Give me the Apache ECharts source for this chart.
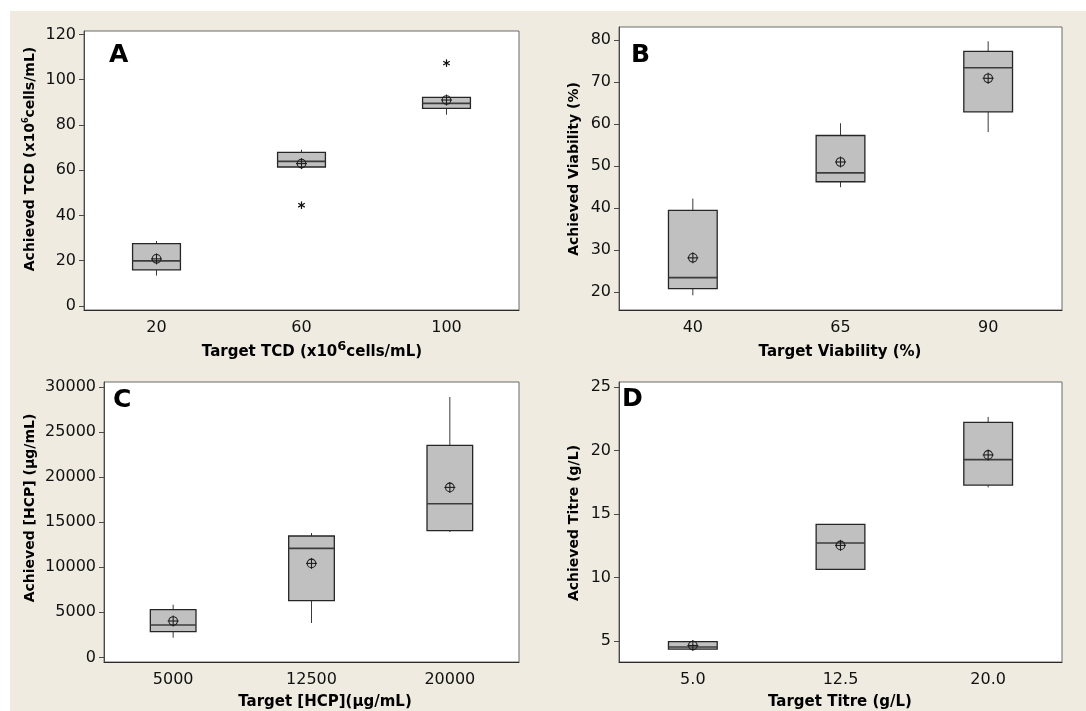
<!DOCTYPE html>
<html>
<head>
<meta charset="utf-8">
<script src="https://cdn.jsdelivr.net/npm/echarts@6.0.0/dist/echarts.min.js"></script>
<style>
  html, body { margin: 0; padding: 0; background: #ffffff; }
  #chart { width: 1086px; height: 711px; }
</style>
</head>
<body>
<div id="chart"></div>
<script>
// Panel A: total cell density
const tcdTargets = ['20', '60', '100'];
const tcdMin    = [13.4, 60.8, 84.5];
const tcdQ1     = [15.9, 61.4, 87.3];
const tcdMedian = [19.9, 63.9, 89.5];
const tcdQ3     = [27.5, 67.9, 92.2];
const tcdMax    = [28.7, 69.0, 92.2];
const tcdMean   = [20.8, 62.9, 91.0];
const tcdOutliers = [[1, 44.5], [2, 107.3]];
const tcdTicks  = [0, 20, 40, 60, 80, 100, 120];

// Panel B: viability
const viaTargets = ['40', '65', '90'];
const viaMin    = [19.3, 45.0, 58.1];
const viaQ1     = [20.9, 46.3, 62.9];
const viaMedian = [23.5, 48.4, 73.4];
const viaQ3     = [39.5, 57.3, 77.3];
const viaMax    = [42.3, 60.2, 79.7];
const viaMean   = [28.2, 51.0, 70.9];
const viaTicks  = [20, 30, 40, 50, 60, 70, 80];

// Panel C: host cell protein
const hcpTargets = ['5000', '12500', '20000'];
const hcpMin    = [2186, 3817, 13913];
const hcpQ1     = [2851, 6291, 14057];
const hcpMedian = [3595, 12094, 17053];
const hcpQ3     = [5292, 13469, 23521];
const hcpMax    = [5847, 13802, 28891];
const hcpMean   = [4039, 10429, 18862];
const hcpTicks  = [0, 5000, 10000, 15000, 20000, 25000, 30000];

// Panel D: titre
const titreTargets = ['5.0', '12.5', '20.0'];
const titreMin    = [4.37, 10.64, 17.09];
const titreQ1     = [4.37, 10.64, 17.28];
const titreMedian = [4.53, 12.72, 19.28];
const titreQ3     = [4.95, 14.18, 22.21];
const titreMax    = [4.95, 14.18, 22.64];
const titreMean   = [4.65, 12.53, 19.65];
const titreTicks  = [5, 10, 15, 20, 25];

const FONT = 'DejaVu Sans';
const INK = '#111111';

function boxRows(mins, q1s, meds, q3s, maxs) {
  return mins.map((m, i) => [i, m, q1s[i], meds[i], q3s[i], maxs[i]]);
}
function meanRows(means) {
  return means.map((v, i) => [i, v]);
}

function renderBox(params, api) {
  const i = api.value(0);
  const pMin = api.coord([i, api.value(1)]);
  const pQ1 = api.coord([i, api.value(2)]);
  const pMed = api.coord([i, api.value(3)]);
  const pQ3 = api.coord([i, api.value(4)]);
  const pMax = api.coord([i, api.value(5)]);
  const w = api.size([1, 0])[0] * 0.33;
  const cx = pQ1[0];
  const whisker = { stroke: '#3a3a3a', lineWidth: 1 };
  return {
    type: 'group',
    children: [
      { type: 'line', shape: { x1: cx, y1: pQ3[1], x2: cx, y2: pMax[1] }, style: whisker },
      { type: 'line', shape: { x1: cx, y1: pQ1[1], x2: cx, y2: pMin[1] }, style: whisker },
      { type: 'rect', shape: { x: cx - w / 2, y: pQ3[1], width: w, height: pQ1[1] - pQ3[1] },
        style: { fill: '#c0c0c0', stroke: '#262626', lineWidth: 1.3 } },
      { type: 'line', shape: { x1: cx - w / 2, y1: pMed[1], x2: cx + w / 2, y2: pMed[1] },
        style: { stroke: '#3c3c3c', lineWidth: 1.6 } }
    ]
  };
}

function renderMean(params, api) {
  const p = api.coord([api.value(0), api.value(1)]);
  const s = { stroke: '#1e1e1e', lineWidth: 1.1, fill: null };
  return {
    type: 'group',
    children: [
      { type: 'circle', shape: { cx: p[0], cy: p[1], r: 4.3 }, style: s },
      { type: 'line', shape: { x1: p[0] - 5.5, y1: p[1], x2: p[0] + 5.5, y2: p[1] }, style: s },
      { type: 'line', shape: { x1: p[0], y1: p[1] - 5.5, x2: p[0], y2: p[1] + 5.5 }, style: s }
    ]
  };
}

function renderStar(params, api) {
  const p = api.coord([api.value(0), api.value(1)]);
  const r = 3.8;
  const s = { stroke: '#111', lineWidth: 1.2 };
  const children = [0, 60, 120].map(a => {
    const t = (a + 90) * Math.PI / 180;
    return { type: 'line', shape: {
      x1: p[0] - r * Math.cos(t), y1: p[1] - r * Math.sin(t),
      x2: p[0] + r * Math.cos(t), y2: p[1] + r * Math.sin(t) }, style: s };
  });
  return { type: 'group', children };
}

const grids = [
  { left: 84,  top: 31,  width: 435, height: 279 },
  { left: 619, top: 27,  width: 443, height: 283 },
  { left: 104, top: 382, width: 415, height: 280 },
  { left: 619, top: 382, width: 443, height: 280 }
].map(g => Object.assign({ show: true, backgroundColor: '#ffffff', borderColor: '#6a6a6a', borderWidth: 1 }, g));

function xAxisFor(gridIndex, cats) {
  return {
    gridIndex, type: 'category', data: cats, boundaryGap: true,
    axisLine: { onZero: false, lineStyle: { color: '#2a2a2a', width: 1 } },
    axisTick: { alignWithLabel: true, length: 5, lineStyle: { color: '#2a2a2a' } },
    axisLabel: { color: INK, fontFamily: FONT, fontSize: 16, margin: 10 },
    splitLine: { show: false }
  };
}
function yAxisFor(gridIndex, min, max, ticks) {
  return {
    gridIndex, type: 'value', min, max,
    axisLine: { show: true, onZero: false, lineStyle: { color: '#4a4a4a', width: 1 } },
    axisTick: { show: true, length: 5, customValues: ticks, lineStyle: { color: '#4a4a4a' } },
    axisLabel: { color: INK, fontFamily: FONT, fontSize: 16, margin: 8, customValues: ticks,
      formatter: v => String(v) },
    splitLine: { show: false }
  };
}

const panels = [
  { cats: tcdTargets, min: -1.8, max: 121.5, ticks: tcdTicks,
    box: boxRows(tcdMin, tcdQ1, tcdMedian, tcdQ3, tcdMax), mean: meanRows(tcdMean), out: tcdOutliers },
  { cats: viaTargets, min: 15.8, max: 83.1, ticks: viaTicks,
    box: boxRows(viaMin, viaQ1, viaMedian, viaQ3, viaMax), mean: meanRows(viaMean), out: [] },
  { cats: hcpTargets, min: -510, max: 30555, ticks: hcpTicks,
    box: boxRows(hcpMin, hcpQ1, hcpMedian, hcpQ3, hcpMax), mean: meanRows(hcpMean), out: [] },
  { cats: titreTargets, min: 3.35, max: 25.39, ticks: titreTicks,
    box: boxRows(titreMin, titreQ1, titreMedian, titreQ3, titreMax), mean: meanRows(titreMean), out: [] }
];

const xAxes = panels.map((p, i) => xAxisFor(i, p.cats));
const yAxes = panels.map((p, i) => yAxisFor(i, p.min, p.max, p.ticks));
const series = [];
panels.forEach((p, i) => {
  series.push({ type: 'custom', xAxisIndex: i, yAxisIndex: i, renderItem: renderBox, data: p.box,
    encode: { x: 0, y: [1, 2, 3, 4, 5] }, z: 2, silent: true });
  series.push({ type: 'custom', xAxisIndex: i, yAxisIndex: i, renderItem: renderMean, data: p.mean,
    encode: { x: 0, y: 1 }, z: 3, silent: true });
  if (p.out.length) {
    series.push({ type: 'custom', xAxisIndex: i, yAxisIndex: i, renderItem: renderStar, data: p.out,
      encode: { x: 0, y: 1 }, z: 3, silent: true });
  }
});

// axis titles and panel letters
const titleRich = {
  b: { fontFamily: FONT, fontWeight: 'bold', fontSize: 14, color: INK, lineHeight: 20, verticalAlign: 'bottom' },
  s: { fontFamily: FONT, fontWeight: 'bold', fontSize: 8, color: INK, lineHeight: 20, verticalAlign: 'bottom', padding: [0, 0, 7, 0] },
  bx: { fontFamily: FONT, fontWeight: 'bold', fontSize: 15, color: INK, lineHeight: 22, verticalAlign: 'bottom' },
  sx: { fontFamily: FONT, fontWeight: 'bold', fontSize: 13, color: INK, lineHeight: 22, verticalAlign: 'bottom', padding: [0, 0, 7, 0] }
};
function yTitle(x, y, text) {
  return { type: 'text', x, y, rotation: Math.PI / 2,
    style: { text, rich: titleRich, align: 'center', verticalAlign: 'middle' } };
}
function xTitle(x, y, text) {
  return { type: 'text', x, y,
    style: { text, rich: titleRich, align: 'center', verticalAlign: 'middle' } };
}
function letter(x, y, text) {
  return { type: 'text', x, y,
    style: { text, fontFamily: FONT, fontWeight: 'bold', fontSize: 25, fill: '#000', align: 'left', verticalAlign: 'top' } };
}

const graphics = [
  { type: 'rect', shape: { x: 10, y: 11, width: 1076, height: 700 }, style: { fill: '#efebe1' }, z: -10, silent: true },
  yTitle(27, 159, '{b|Achieved TCD (x10}{s|6}{b|cells/mL)}'),
  yTitle(571, 169, '{b|Achieved Viability (%)}'),
  yTitle(27, 508, '{b|Achieved [HCP] (µg/mL)}'),
  yTitle(571, 523, '{b|Achieved Titre (g/L)}'),
  xTitle(312, 349, '{bx|Target TCD (x10}{sx|6}{bx|cells/mL)}'),
  xTitle(840, 349, '{bx|Target Viability (%)}'),
  xTitle(325, 699, '{bx|Target [HCP](µg/mL)}'),
  xTitle(840, 699, '{bx|Target Titre (g/L)}'),
  letter(109, 43, 'A'),
  letter(631, 43, 'B'),
  letter(113, 388, 'C'),
  letter(622, 387, 'D')
];

const chart = echarts.init(document.getElementById('chart'), null, { renderer: 'canvas' });
chart.setOption({
  animation: false,
  backgroundColor: '#ffffff',
  grid: grids,
  xAxis: xAxes,
  yAxis: yAxes,
  series,
  graphic: { elements: graphics }
});
</script>
</body>
</html>
